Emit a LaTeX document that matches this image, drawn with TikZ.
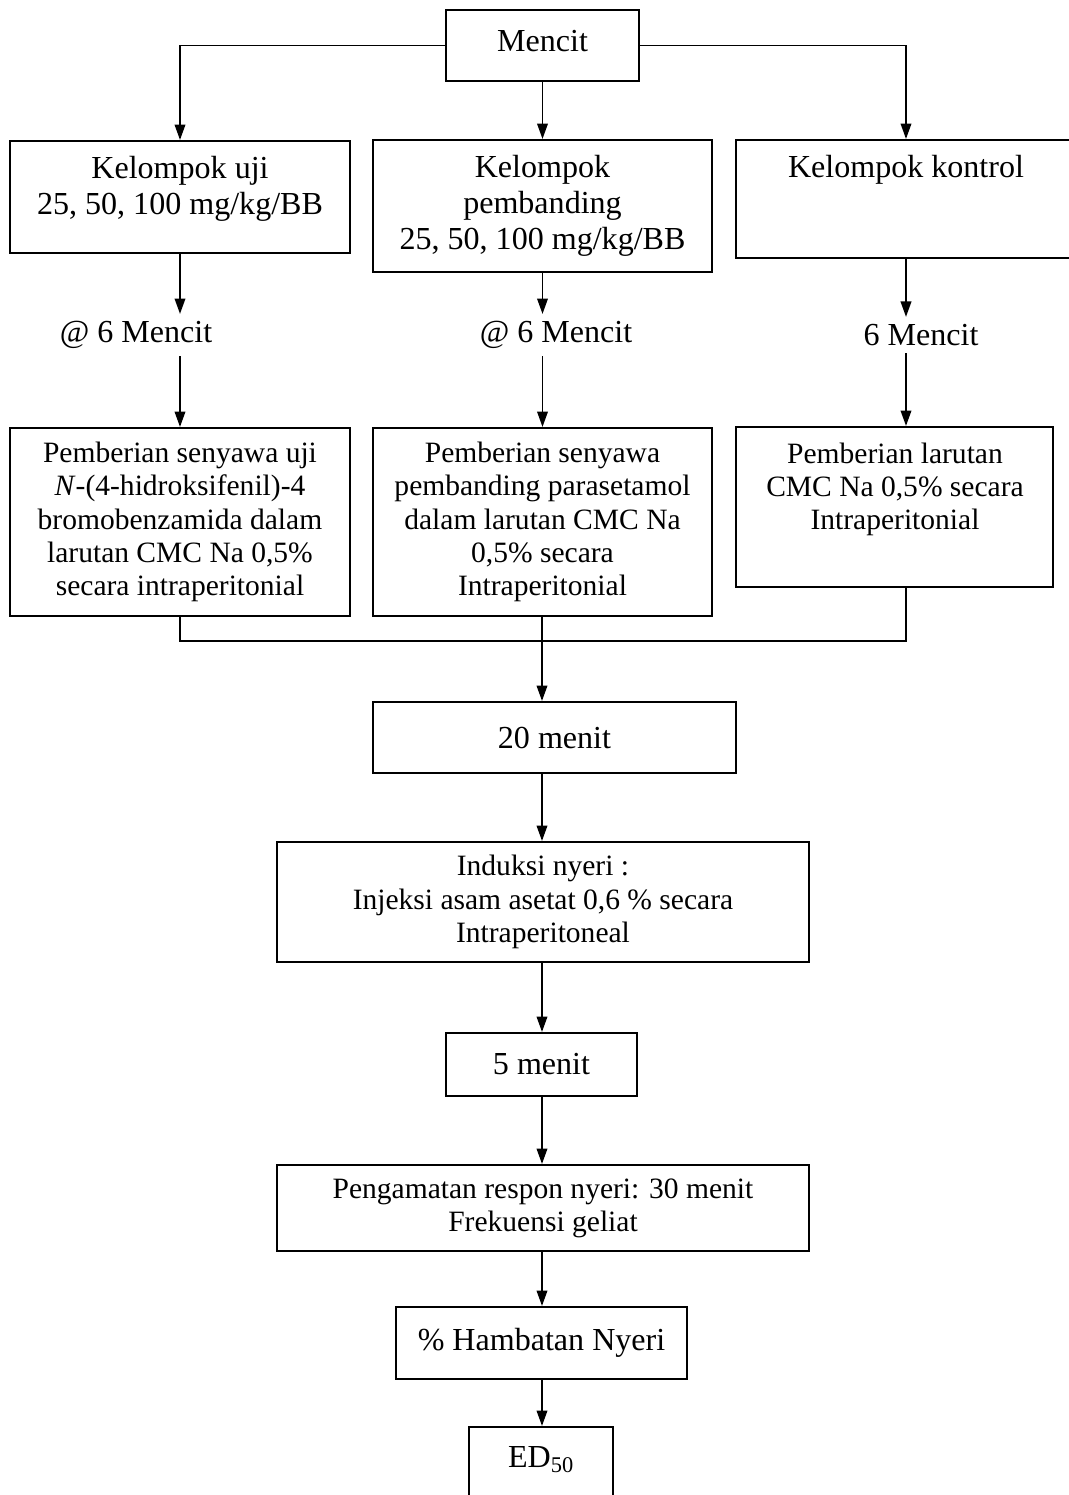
\documentclass[tikz,border=0pt]{standalone}
\usepackage{fontspec}
\setmainfont{Liberation Serif}
\usetikzlibrary{arrows.meta}

\begin{document}
\begin{tikzpicture}[x=0.025cm,y=-0.025cm,
	box/.style={draw,line width=1.4pt,align=center,inner sep=0pt},
	txt/.style={align=center,inner sep=5pt},
	small/.style={font=\fontsize{21}{23.6}\selectfont},
	arr/.style={line width=1.4pt,-{Triangle[length=11pt,width=7.5pt]}},
	font=\fontsize{22.8}{25.5}\selectfont]
	\useasboundingbox (0,0) rectangle (1068,1495);

	\node[box,minimum width=4.825cm,minimum height=1.775cm] (mencit) at (542.5,45.5) {};
	\node[txt] (mencittxt) at (542.5,41) {Mencit};

	\node[box,minimum width=8.5cm,minimum height=2.8cm] (uji) at (180,197) {};
	\node[txt] (ujitxt) at (180,189) {Kelompok uji\\25, 50, 100 mg/kg/BB};
	\node[box,minimum width=8.475cm,minimum height=3.3cm] (pemb) at (542.5,206) {Kelompok\\pembanding\\25, 50, 100 mg/kg/BB};
	\node[box,minimum width=8.5cm,minimum height=2.95cm] (kontrol) at (906,199) {};
	\node[txt] (kontroltxt) at (906,170) {Kelompok kontrol};

	\node[txt] (n1) at (136,335) {@ 6 Mencit};
	\node[txt] (n2) at (556,335) {@ 6 Mencit};
	\node[txt] (n3) at (921,335) {6 Mencit};

	\node[box,small,minimum width=8.5cm,minimum height=4.7cm] (peu) at (180,522) {Pemberian senyawa uji\\\textit{N}-(4-hidroksifenil)-4\\bromobenzamida dalam\\larutan CMC Na 0,5\%\\secara intraperitonial};
	\node[box,small,minimum width=8.475cm,minimum height=4.7cm] (pep) at (542.5,522) {Pemberian senyawa\\pembanding parasetamol\\dalam larutan CMC Na\\0,5\% secara\\Intraperitonial};
	\node[box,minimum width=7.925cm,minimum height=4cm] (pek) at (894.5,507) {};
	\node[txt,small] (pektxt) at (895,489.5) {Pemberian larutan\\CMC Na 0,5\% secara\\Intraperitonial};

	\coordinate (join) at (542,641);

	\node[box,minimum width=9.075cm,minimum height=1.775cm] (menit20) at (554.5,737.5) {20 menit};
	\node[box,small,minimum width=13.3cm,minimum height=3cm] (induksi) at (543,902) {Induksi nyeri :\\Injeksi asam asetat 0,6 \% secara\\Intraperitoneal};
	\node[box,minimum width=4.775cm,minimum height=1.575cm] (menit5) at (541.5,1064.5) {5 menit};
	\node[box,small,minimum width=13.3cm,minimum height=2.15cm] (amat) at (543,1208) {Pengamatan respon nyeri: 30 menit\\Frekuensi geliat};
	\node[box,minimum width=7.275cm,minimum height=1.8cm] (hambat) at (541.5,1343) {\% Hambatan Nyeri};
	\node[box,minimum width=3.6cm,minimum height=1.8cm,text depth=0.3cm] (ed) at (541,1463) {ED\textsubscript{50}};

	\draw[arr] (mencit.west) -| (uji.north);
	\draw[arr] (mencit.east) -| (kontrol.north);
	\draw[arr] (mencit.south) -- (mencit.south |- pemb.north);

	\draw[arr] (uji.south) -- (uji.south |- n1.north);
	\draw[arr] (uji.south |- n1.south) -- (uji.south |- peu.north);
	\draw[arr] (mencit.south |- pemb.south) -- (mencit.south |- n2.north);
	\draw[arr] (mencit.south |- n2.south) -- (mencit.south |- pep.north);
	\draw[arr] (kontrol.south) -- (kontrol.south |- n3.north);
	\draw[arr] (kontrol.south |- n3.south) -- (kontrol.south |- pek.north);

	\draw[line width=1.4pt] (uji.south |- peu.south) |- (join) -| (kontrol.south |- pek.south);
	\draw[line width=1.4pt] (join |- pep.south) -- (join);
	\draw[arr] (join) -- (join |- menit20.north);
	\draw[arr] (join |- menit20.south) -- (join |- induksi.north);
	\draw[arr] (join |- induksi.south) -- (join |- menit5.north);
	\draw[arr] (join |- menit5.south) -- (join |- amat.north);
	\draw[arr] (join |- amat.south) -- (join |- hambat.north);
	\draw[arr] (join |- hambat.south) -- (join |- ed.north);
\end{tikzpicture}
\end{document}
